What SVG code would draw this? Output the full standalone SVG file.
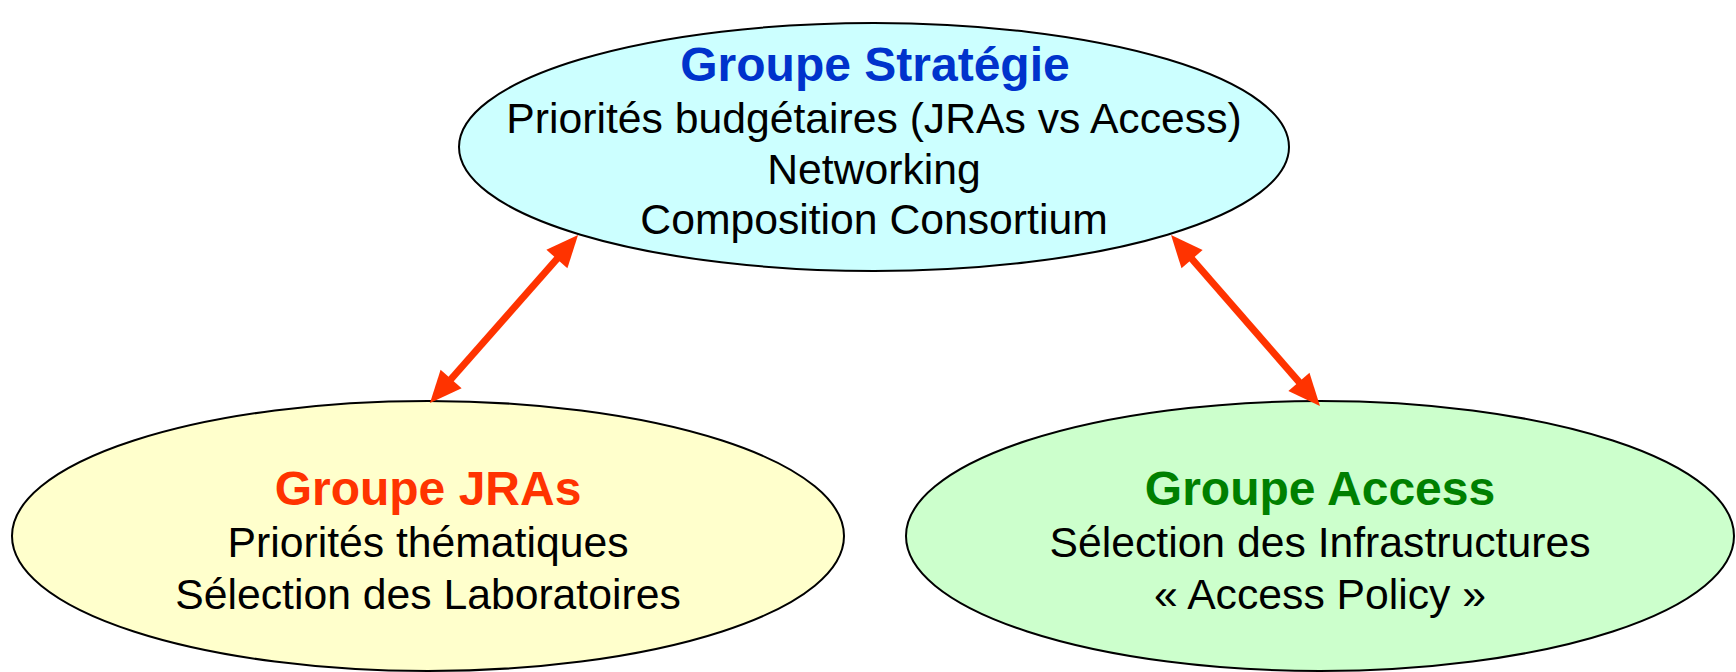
<svg xmlns="http://www.w3.org/2000/svg" width="1736" height="672" viewBox="0 0 1736 672">
<style>
.node { stroke: #000; stroke-width: 2; }
.title { font-family: "Liberation Sans", Arial, sans-serif; font-weight: bold; font-size: 48px; text-anchor: middle; }
.body { font-family: "Liberation Sans", Arial, sans-serif; font-size: 42.7px; text-anchor: middle; fill: #000; }
.conn { stroke: #FF3300; stroke-width: 7; fill: none; marker-start: url(#ah); marker-end: url(#ah); }
</style>
<defs>
<marker id="ah" markerUnits="userSpaceOnUse" viewBox="-12 -16 36 32" refX="0" refY="0" markerWidth="36" markerHeight="32" orient="auto-start-reverse">
<path d="M -10,-14 L 22,0 L -10,14 Z" fill="#FF3300"/>
</marker>
</defs>
<rect width="1736" height="672" fill="#fff"/>
<g id="strategie">
<ellipse class="node" cx="874" cy="147" rx="415" ry="124" fill="#CCFFFF"/>
<text class="title" x="875" y="81" fill="#0033CC">Groupe Stratégie</text>
<text class="body" x="874" y="133">Priorités budgétaires (JRAs vs Access)</text>
<text class="body" x="874" y="184">Networking</text>
<text class="body" x="874" y="234">Composition Consortium</text>
</g>
<g id="jras">
<ellipse class="node" cx="428" cy="536" rx="416" ry="135" fill="#FFFFCC"/>
<text class="title" x="428" y="505" fill="#FF3300">Groupe JRAs</text>
<text class="body" x="428" y="557">Priorités thématiques</text>
<text class="body" x="428" y="609">Sélection des Laboratoires</text>
</g>
<g id="access">
<ellipse class="node" cx="1320" cy="536" rx="414" ry="135" fill="#CCFFCC"/>
<text class="title" x="1320" y="505" fill="#008000">Groupe Access</text>
<text class="body" x="1320" y="557">Sélection des Infrastructures</text>
<text class="body" x="1320" y="609">« Access Policy »</text>
</g>
<g id="connectors">
<line class="conn" x1="563.5" y1="251.5" x2="444.5" y2="386.5"/>
<line class="conn" x1="1185.5" y1="251.6" x2="1305.5" y2="389.4"/>
</g>
</svg>
